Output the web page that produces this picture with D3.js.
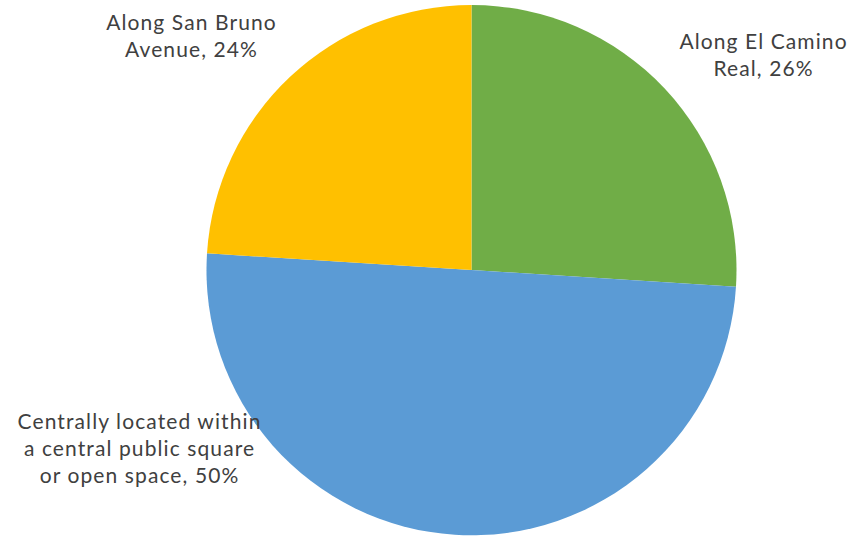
<!DOCTYPE html>
<html>
<head>
<meta charset="utf-8">
<script src="https://cdn.jsdelivr.net/npm/d3@7"></script>
<style>
  html, body { margin: 0; padding: 0; background: #fff; }
  svg { display: block; }
</style>
</head>
<body>
<svg id="chart" width="850" height="536"></svg>
<script>
const categories = ["Along El Camino Real", "Centrally located within a central public square or open space", "Along San Bruno Avenue"];
const values = [26, 50, 24];
const colors = ["#70AD47", "#5B9BD5", "#FFC000"];
const labelLines = [
  ["Along El Camino", "Real, 26%"],
  ["Centrally located within", "a central public square", "or open space, 50%"],
  ["Along San Bruno", "Avenue, 24%"]
];

const svg = d3.select("#chart");
const cx = 471.5, cy = 270, r = 265;

const pie = d3.pie().sort(null).value(d => d)(values);
const arc = d3.arc().innerRadius(0).outerRadius(r);

const g = svg.append("g").attr("transform", `translate(${cx},${cy})`);
g.selectAll("path")
  .data(pie)
  .join("path")
  .attr("d", arc)
  .attr("fill", (d, i) => colors[i]);

const labelPos = [
  { x: 763, y: 48.5 },
  { x: 139, y: 429 },
  { x: 191, y: 29.5 }
];
const lineH = 27;

labelLines.forEach((lines, i) => {
  const t = svg.append("text")
    .attr("text-anchor", "middle")
    .attr("font-family", "Lato, 'Open Sans', sans-serif")
    .attr("font-size", 21)
    .attr("letter-spacing", "1.1px")
    .attr("fill", "#404040");
  lines.forEach((ln, j) => {
    t.append("tspan")
      .attr("x", labelPos[i].x + 0.55)
      .attr("y", labelPos[i].y + j * lineH)
      .text(ln);
  });
});
</script>
</body>
</html>
